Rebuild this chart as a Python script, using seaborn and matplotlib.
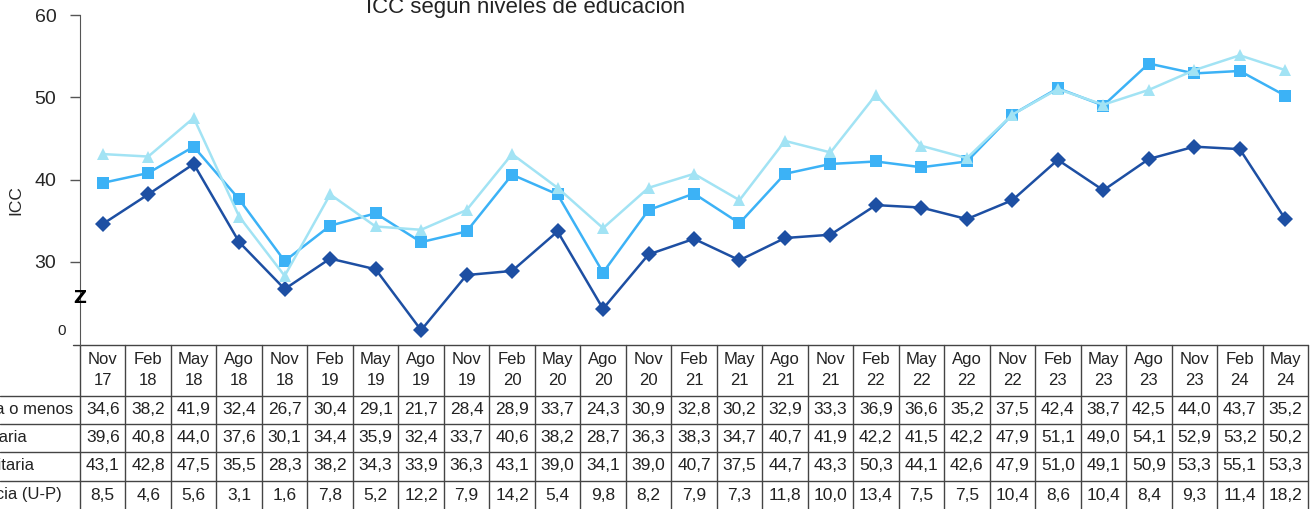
import pandas as pd
import seaborn as sns
import matplotlib.pyplot as plt
from matplotlib.transforms import blended_transform_factory

months = ['Nov', 'Feb', 'May', 'Ago'] * 7
years = ['17', '18', '18', '18', '18', '19', '19', '19', '19', '20', '20', '20', '20', '21',
         '21', '21', '21', '22', '22', '22', '22', '23', '23', '23', '23', '24', '24']
periods = [m + '\n' + y for m, y in zip(months, years)]

primaria = [34.6, 38.2, 41.9, 32.4, 26.7, 30.4, 29.1, 21.7, 28.4, 28.9, 33.7, 24.3, 30.9, 32.8,
            30.2, 32.9, 33.3, 36.9, 36.6, 35.2, 37.5, 42.4, 38.7, 42.5, 44.0, 43.7, 35.2]
secundaria = [39.6, 40.8, 44.0, 37.6, 30.1, 34.4, 35.9, 32.4, 33.7, 40.6, 38.2, 28.7, 36.3, 38.3,
              34.7, 40.7, 41.9, 42.2, 41.5, 42.2, 47.9, 51.1, 49.0, 54.1, 52.9, 53.2, 50.2]
universitaria = [43.1, 42.8, 47.5, 35.5, 28.3, 38.2, 34.3, 33.9, 36.3, 43.1, 39.0, 34.1, 39.0, 40.7,
                 37.5, 44.7, 43.3, 50.3, 44.1, 42.6, 47.9, 51.0, 49.1, 50.9, 53.3, 55.1, 53.3]
diferencia = [8.5, 4.6, 5.6, 3.1, 1.6, 7.8, 5.2, 12.2, 7.9, 14.2, 5.4, 9.8, 8.2, 7.9,
              7.3, 11.8, 10.0, 13.4, 7.5, 7.5, 10.4, 8.6, 10.4, 8.4, 9.3, 11.4, 18.2]

series_names = ['Primaria o menos', 'Secundaria', 'Universitaria']
row_labels = ['Primaria o menos', 'Secundaria', 'Universitaria', 'Diferencia (U-P)']
colors = {'Primaria o menos': '#1d4fa3', 'Secundaria': '#3cb2f6', 'Universitaria': '#a2e3f4'}
markers = {'Primaria o menos': 'D', 'Secundaria': 's', 'Universitaria': '^'}

df = pd.DataFrame({
    'x': list(range(len(periods))) * 3,
    'ICC': primaria + secundaria + universitaria,
    'nivel': [n for n in series_names for _ in periods],
})

sns.set_style("white")
plt.rcParams['font.family'] = ['Liberation Sans', 'DejaVu Sans']

W, H = 1314, 509
fig = plt.figure(figsize=(W / 100, H / 100), dpi=100)
ax = fig.add_axes([80 / W, 1 - 345 / H, 1228 / W, 330 / H])

sns.lineplot(data=df, x='x', y='ICC', hue='nivel', style='nivel', palette=colors,
             markers=markers, dashes=False, markersize=8, linewidth=1.8,
             markeredgewidth=0, legend=False, ax=ax, zorder=3)

ax.set_xlim(-0.5, len(periods) - 0.5)
ax.set_ylim(19.9, 60)
ax.set_yticks([30, 40, 50, 60])
ax.set_xticks([])
ax.set_xlabel('')
ax.set_ylabel('ICC', fontsize=12.5)
ax.yaxis.set_label_coords(-0.046, 0.44)
ax.tick_params(axis='y', labelsize=14, length=7, width=1, color='#555555', pad=10, left=True)
for s in ['top', 'right']:
    ax.spines[s].set_visible(False)
ax.spines['left'].set_color('#555555')
ax.spines['bottom'].set_visible(False)

# axis break mark and fake zero
ax.text(-0.5, 25.6, 'Z', ha='center', va='center', fontsize=13, fontweight='heavy',
        family='DejaVu Sans', color='black')
ax.text(-0.82, 21.6, '0', ha='right', va='center', fontsize=11, color='#222222')

fig.text(526 / W, 1 - 13 / H, 'ICC según niveles de educación', ha='center',
         va='baseline', fontsize=16, color='#222222')

# data table under the chart
tr = blended_transform_factory(ax.transData, fig.transFigure)
line_kw = dict(color='#444444', linewidth=1.0, clip_on=False)
n = len(periods)
fy = lambda p: 1 - p / H

ax.plot([-0.66, n - 0.5], [fy(345)] * 2, transform=tr, **line_kw)
for p in [396, 424, 452, 481]:
    fig.add_artist(plt.Line2D([0, 1308 / W], [fy(p)] * 2, **line_kw))
for i in range(n + 1):
    ax.plot([i - 0.5] * 2, [fy(345), fy(H + 5)], transform=tr, **line_kw)

for i, lab in enumerate(periods):
    ax.text(i, fy(370), lab, transform=tr, ha='center', va='center', fontsize=12,
            linespacing=1.45, color='#222222')

rows = [primaria, secundaria, universitaria, diferencia]
row_centers = [410, 438, 466, 495]
for lab, vals, yc in zip(row_labels, rows, row_centers):
    fig.text(-58 / W, fy(yc), lab, ha='left', va='center', fontsize=12, color='#222222')
    for i, v in enumerate(vals):
        ax.text(i, fy(yc), f"{v:.1f}".replace('.', ','), transform=tr, ha='center',
                va='center', fontsize=12.5, color='#222222')

fig.savefig('out.png', dpi=100)
